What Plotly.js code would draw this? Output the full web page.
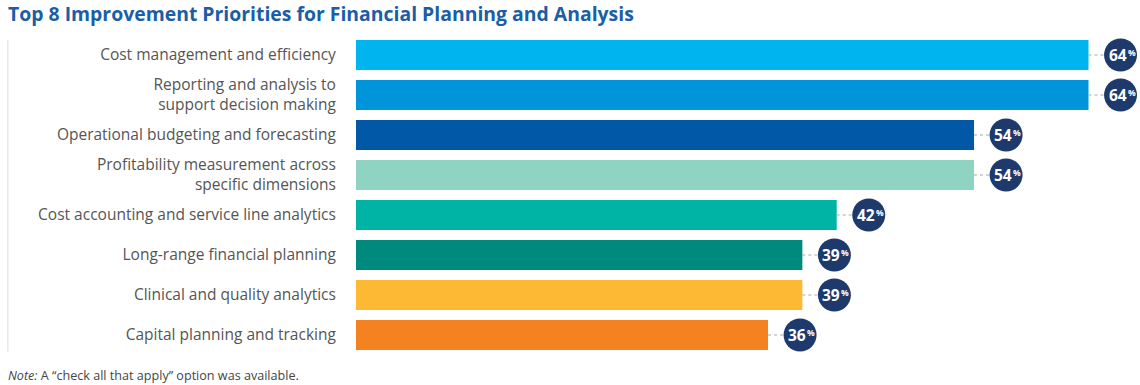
<!DOCTYPE html>
<html>
<head>
<meta charset="utf-8">
<script src="https://cdn.plot.ly/plotly-3.0.1.min.js"></script>
<style>html,body{margin:0;padding:0;background:#fff;}#chart{width:1140px;height:385px;}</style>
</head>
<body>
<div id="chart"></div>
<script>
const categories = [
  "Cost management and efficiency",
  "Reporting and analysis to<br>support decision making",
  "Operational budgeting and forecasting",
  "Profitability measurement across<br>specific dimensions",
  "Cost accounting and service line analytics",
  "Long-range financial planning",
  "Clinical and quality analytics",
  "Capital planning and tracking"
];
const values = [64, 64, 54, 54, 42, 39, 39, 36];
const barColors = ["#00b5ef", "#0095da", "#0058a7", "#8fd4c2", "#00b4a5", "#008a7d", "#fdb934", "#f58221"];

const labelOffset = 2.8; // distance from bar end to badge centre, in axis units

const badgeX = values.map(v => v + labelOffset);

const lineX = [], lineY = [];
values.forEach((v, i) => { lineX.push(v, v + labelOffset, null); lineY.push(categories[i], categories[i], null); });

const data = [
  {
    type: "bar", orientation: "h", x: values, y: categories,
    width: 0.75,
    marker: { color: barColors },
    hoverinfo: "skip"
  },
  {
    type: "scatter", mode: "lines", x: lineX, y: lineY,
    line: { color: "#a8a8a8", width: 1, dash: "dot" },
    hoverinfo: "skip", cliponaxis: false
  },
  {
    type: "scatter", mode: "markers", x: badgeX, y: categories,
    marker: { size: 33, color: "#1e3a6d" },
    hoverinfo: "skip", cliponaxis: false
  }
];

const badgeAnnotations = [];
values.forEach((v, i) => {
  badgeAnnotations.push({
    x: badgeX[i], y: categories[i], xref: "x", yref: "y", showarrow: false,
    text: "<b>" + v + "</b>", xshift: -3, yshift: 0,
    font: { family: "Open Sans", size: 15.5, color: "#ffffff" }
  });
  badgeAnnotations.push({
    x: badgeX[i], y: categories[i], xref: "x", yref: "y", showarrow: false,
    text: "<b>%</b>", xshift: 11, yshift: 3,
    font: { family: "Open Sans", size: 8.5, color: "#ffffff" }
  });
});

const layout = {
  width: 1140, height: 385,
  margin: { l: 356, r: 0, t: 35, b: 30 },
  paper_bgcolor: "#ffffff", plot_bgcolor: "#ffffff",
  showlegend: false, hovermode: false,
  bargap: 0.25,
  title: {
    text: "<b>Top 8 Improvement Priorities for Financial Planning and Analysis</b>",
    x: 0.007, xanchor: "left", y: 0.962, yanchor: "middle", yref: "container",
    font: { family: "Open Sans", size: 19.4, color: "#1a5ea6" }
  },
  xaxis: { range: [0, 68.5], visible: false, fixedrange: true, automargin: false },
  yaxis: {
    range: [categories.length - 0.5, -0.5],
    showgrid: false, zeroline: false, showline: false,
    automargin: false,
    ticks: "outside", ticklen: 16, tickcolor: "rgba(0,0,0,0)",
    tickfont: { family: "Open Sans", size: 15.5, color: "#555555" },
    fixedrange: true
  },
  shapes: [
    { type: "line", xref: "paper", yref: "paper", x0: -0.444, x1: -0.444, y0: 0.985, y1: 0.01,
      line: { color: "#dddddd", width: 1 } }
  ],
  annotations: badgeAnnotations.concat([
    { xref: "paper", yref: "paper", x: -0.447, y: -0.065, xanchor: "left", yanchor: "middle",
      showarrow: false, align: "left",
      text: "<i>Note:</i> A \u201Ccheck all that apply\u201D option was available.",
      font: { family: "Open Sans", size: 12.6, color: "#444444" } }
  ])
};

Plotly.newPlot("chart", data, layout, { displayModeBar: false, staticPlot: true });
</script>
</body>
</html>
